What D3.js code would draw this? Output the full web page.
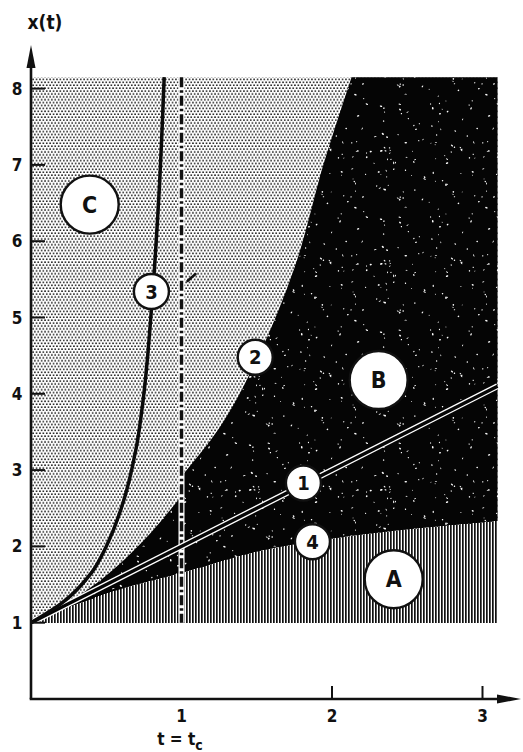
<!DOCTYPE html>
<html>
<head>
<meta charset="utf-8">
<script src="https://cdn.jsdelivr.net/npm/d3@7"></script>
<style>
  body { margin: 0; background: white; }
  svg { display: block; }
</style>
</head>
<body>
<svg id="chart" width="523" height="752"></svg>
<script>
// values (t, x)
const yTicks = [1, 2, 3, 4, 5, 6, 7, 8]
const tTicks = [2, 3]
const tLabels = [1, 2, 3]

const curve1T = [0, 3.1]
const curve1X = [1, 4.1]

const curve2LowT = [0, 0.25, 0.5, 0.75, 1.0]
const curve2LowX = [1, 1.27, 1.62, 2.08, 2.66]
const curve2HighT = [1.0, 1.25, 1.5, 1.75, 1.95, 2.13]
const curve2HighX = [2.92, 3.55, 4.45, 5.65, 7.05, 8.15]

const curve3T = [0, 0.2, 0.4, 0.5, 0.6, 0.7, 0.75, 0.8, 0.85, 0.885]
const curve3X = [1, 1.25, 1.65, 2.0, 2.5, 3.3, 4.0, 5.1, 6.6, 8.15]

const curve4T = [0, 0.25, 0.5, 1.0, 1.5, 2.0, 2.5, 3.1]
const curve4X = [1, 1.2, 1.38, 1.65, 1.93, 2.1, 2.22, 2.33]

const tMax = 3.1, xTop = 8.15, xBottom = 1

const labels = [
    { text: 'C', t: 0.39, x: 6.48, big: true },
    { text: 'B', t: 2.31, x: 4.18, big: true },
    { text: 'A', t: 2.41, x: 1.57, big: true },
    { text: '3', t: 0.80, x: 5.34, big: false },
    { text: '2', t: 1.49, x: 4.48, big: false },
    { text: '1', t: 1.81, x: 2.83, big: false },
    { text: '4', t: 1.87, x: 2.06, big: false }
]

const zip = (ts, xs) => ts.map((t, i) => [t, xs[i]])

const svg = d3.select('svg#chart')
const xs = d3.scaleLinear().domain([0, 3]).range([31, 482.5])
const ys = d3.scaleLinear().domain([0, 8]).range([699, 88.6])

let defs = svg.append('defs')

// light stipple for region C
let stip = defs.append('pattern')
    .attr('id', 'stipple').attr('patternUnits', 'userSpaceOnUse')
    .attr('width', 3.4).attr('height', 5.8)
stip.append('rect').attr('width', 3.4).attr('height', 5.8).attr('fill', 'white')
stip.append('circle').attr('cx', 0.85).attr('cy', 1.1).attr('r', 0.85).attr('fill', '#111')
stip.append('circle').attr('cx', 2.55).attr('cy', 4.0).attr('r', 0.85).attr('fill', '#111')

// black with white specks for region B
let spkW = 131, spkH = 113
let spk = defs.append('pattern')
    .attr('id', 'speck').attr('patternUnits', 'userSpaceOnUse')
    .attr('width', spkW).attr('height', spkH)
spk.append('rect').attr('width', spkW).attr('height', spkH).attr('fill', '#050505')
let seed = 12345
function rnd() { seed = (seed * 16807) % 2147483647; return seed / 2147483647 }
for (let i = 0; i < 130; i++) {
    let cx = rnd() * spkW, cy = rnd() * spkH
    spk.append('ellipse')
        .attr('cx', cx).attr('cy', cy)
        .attr('rx', 0.4 + rnd() * 1.0).attr('ry', 0.35 + rnd() * 0.5)
        .attr('transform', 'rotate(' + (rnd() * 180) + ',' + cx + ',' + cy + ')')
        .attr('fill', 'white')
}

// vertical hatching for region A
let hat = defs.append('pattern')
    .attr('id', 'hatch').attr('patternUnits', 'userSpaceOnUse')
    .attr('width', 3).attr('height', 10)
hat.append('rect').attr('width', 3).attr('height', 10).attr('fill', 'white')
hat.append('rect').attr('x', 0).attr('width', 1.7).attr('height', 10).attr('fill', '#111')

const line = d3.line().x(d => xs(d[0])).y(d => ys(d[1])).curve(d3.curveMonotoneX)
const lineY = d3.line().x(d => xs(d[0])).y(d => ys(d[1])).curve(d3.curveMonotoneY)

// region C: whole rectangle
svg.append('rect')
    .attr('x', xs(0)).attr('y', ys(xTop))
    .attr('width', xs(tMax) - xs(0)).attr('height', ys(xBottom) - ys(xTop))
    .attr('fill', 'url(#stipple)')

// region B: between curve 4 and curve 2
let c2low = zip(curve2LowT, curve2LowX)
let c2high = zip(curve2HighT, curve2HighX)
let c4 = zip(curve4T, curve4X)
let bPath = line(c2low) + 'L' + lineY(c2high).slice(1) +
    'L' + xs(tMax) + ',' + ys(xTop) +
    'L' + line(c4.slice().reverse()).slice(1) + 'Z'
svg.append('path').attr('d', bPath).attr('fill', 'url(#speck)')

// region A: below curve 4
let aPath = line(c4) + 'L' + xs(tMax) + ',' + ys(xBottom) + 'L' + xs(0) + ',' + ys(xBottom) + 'Z'
svg.append('path').attr('d', aPath).attr('fill', 'url(#hatch)').attr('shape-rendering', 'crispEdges')

// dash-dot line at t = t_c
svg.append('line')
    .attr('x1', xs(1)).attr('x2', xs(1)).attr('y1', ys(xTop)).attr('y2', ys(xBottom))
    .attr('stroke', 'white').attr('stroke-width', 6)
svg.append('line')
    .attr('x1', xs(1)).attr('x2', xs(1)).attr('y1', ys(xTop)).attr('y2', ys(xBottom))
    .attr('stroke', '#111').attr('stroke-width', 3.5)
    .attr('stroke-dasharray', '10,3,2.5,3')
// small stray mark next to it
svg.append('line')
    .attr('x1', xs(1) + 6).attr('y1', 281).attr('x2', xs(1) + 14).attr('y2', 274)
    .attr('stroke', '#111').attr('stroke-width', 2.5).attr('stroke-linecap', 'round')

// curve 1: white double line
let c1 = zip(curve1T, curve1X)
svg.append('path').attr('d', line(c1)).attr('fill', 'none')
    .attr('stroke', 'white').attr('stroke-width', 6)
svg.append('path').attr('d', line(c1)).attr('fill', 'none')
    .attr('stroke', '#050505').attr('stroke-width', 3.4)

// curve 3
svg.append('path').attr('d', lineY(zip(curve3T, curve3X))).attr('fill', 'none')
    .attr('stroke', '#0a0a0a').attr('stroke-width', 3.5)

// axes
svg.append('line').attr('x1', xs(0)).attr('x2', xs(0)).attr('y1', ys(0)).attr('y2', 62)
    .attr('stroke', '#111').attr('stroke-width', 2.6)
svg.append('path').attr('d', 'M' + xs(0) + ',45 L' + (xs(0) - 4.5) + ',68 L' + (xs(0) + 4.5) + ',68 Z')
    .attr('fill', '#111')
svg.append('line').attr('x1', xs(0) - 1.3).attr('x2', 505).attr('y1', ys(0)).attr('y2', ys(0))
    .attr('stroke', '#111').attr('stroke-width', 2.6)
svg.append('path').attr('d', 'M521,' + ys(0) + ' L497,' + (ys(0) - 4.5) + ' L497,' + (ys(0) + 4.5) + ' Z')
    .attr('fill', '#111')

svg.selectAll('line.ytick').data(yTicks).enter().append('line')
    .attr('class', 'ytick')
    .attr('x1', xs(0)).attr('x2', xs(0) + 14)
    .attr('y1', d => ys(d)).attr('y2', d => ys(d))
    .attr('stroke', '#111').attr('stroke-width', 2)
svg.selectAll('text.ylab').data(yTicks).enter().append('text')
    .attr('class', 'ylab')
    .attr('x', 17).attr('y', d => ys(d) + 6)
    .attr('text-anchor', 'middle')
    .attr('font-family', 'DejaVu Sans Condensed, DejaVu Sans')
    .attr('font-size', 17).attr('font-weight', 600)
    .attr('fill', '#111')
    .text(d => d)

svg.selectAll('line.ttick').data(tTicks).enter().append('line')
    .attr('class', 'ttick')
    .attr('x1', d => xs(d)).attr('x2', d => xs(d))
    .attr('y1', ys(0)).attr('y2', ys(0) - 13)
    .attr('stroke', '#111').attr('stroke-width', 2)
svg.selectAll('text.tlab').data(tLabels).enter().append('text')
    .attr('class', 'tlab')
    .attr('x', d => xs(d)).attr('y', 722)
    .attr('text-anchor', 'middle')
    .attr('font-family', 'DejaVu Sans Condensed, DejaVu Sans')
    .attr('font-size', 17).attr('font-weight', 600)
    .attr('fill', '#111')
    .text(d => d)

let tc = svg.append('text')
    .attr('x', 180).attr('y', 745)
    .attr('text-anchor', 'middle')
    .attr('font-family', 'DejaVu Sans Condensed, DejaVu Sans')
    .attr('font-size', 17).attr('font-weight', 600).attr('fill', '#111')
tc.append('tspan').text('t = t')
tc.append('tspan').attr('dy', 5).attr('font-size', 14).text('c')

svg.append('text')
    .attr('x', 45).attr('y', 29)
    .attr('text-anchor', 'middle')
    .attr('font-family', 'DejaVu Sans Condensed, DejaVu Sans')
    .attr('font-size', 19).attr('font-weight', 'bold').attr('fill', '#111')
    .text('x(t)')

// circled labels
let lg = svg.selectAll('g.lab').data(labels).enter().append('g')
    .attr('class', 'lab')
    .attr('transform', d => 'translate(' + xs(d.t) + ',' + ys(d.x) + ')')
lg.append('circle')
    .attr('r', d => d.big ? 29 : 17.5)
    .attr('fill', 'white').attr('stroke', '#111').attr('stroke-width', 2.4)
lg.append('text')
    .attr('text-anchor', 'middle')
    .attr('dy', d => d.big ? 8 : 7)
    .attr('font-family', 'DejaVu Sans Condensed, DejaVu Sans')
    .attr('font-weight', 'bold')
    .attr('font-size', d => d.big ? 23 : 20)
    .attr('fill', '#111')
    .text(d => d.text)
</script>
</body>
</html>
